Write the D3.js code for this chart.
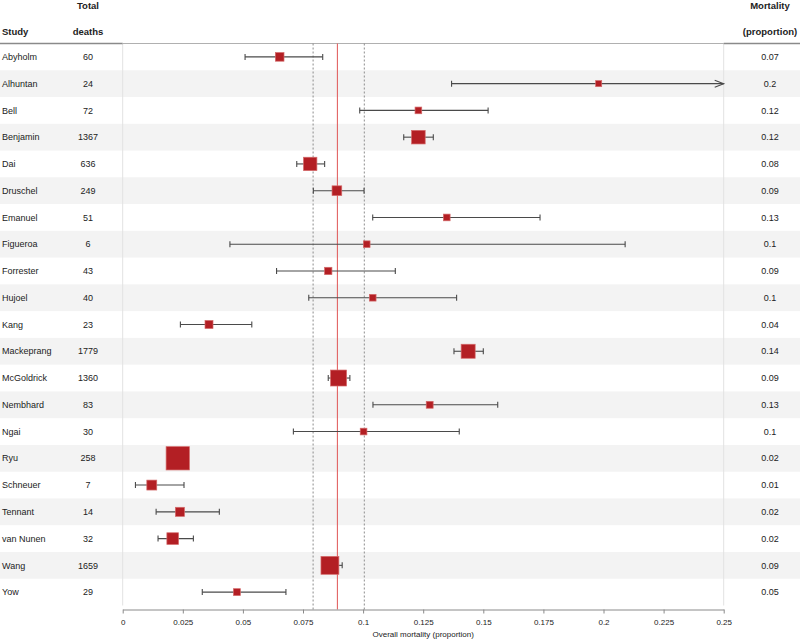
<!DOCTYPE html>
<html>
<head>
<meta charset="utf-8">
<script src="https://cdn.jsdelivr.net/npm/d3@7"></script>
<style>
  body { margin: 0; background: #fff; }
  svg { font-family: "Liberation Sans", Arial, sans-serif; }
</style>
</head>
<body>
<div id="chart"></div>
<script>
// study data
var aStudies = ["Abyholm","Alhuntan","Bell","Benjamin","Dai","Druschel","Emanuel","Figueroa","Forrester","Hujoel",
	"Kang","Mackeprang","McGoldrick","Nembhard","Ngai","Ryu","Schneuer","Tennant","van Nunen","Wang","Yow"];
var aDeaths = [60,24,72,1367,636,249,51,6,43,40,23,1779,1360,83,30,258,7,14,32,1659,29];
var aEstimate = [0.0653,0.198,0.123,0.123,0.078,0.0891,0.1348,0.1015,0.0855,0.104,0.0359,0.1437,0.0898,0.1277,0.1002,0.0229,0.0121,0.0238,0.0208,0.0862,0.0475];
var aLower = [0.0509,0.1368,0.0986,0.1169,0.0724,0.0793,0.104,0.0446,0.064,0.0774,0.024,0.1378,0.0855,0.1041,0.071,0.0205,0.0053,0.0139,0.0147,0.0834,0.0331];
var aUpper = [0.0832,0.27,0.152,0.1292,0.084,0.1004,0.1736,0.209,0.1134,0.1389,0.0537,0.15,0.0945,0.156,0.14,0.025,0.0255,0.0402,0.0294,0.0913,0.0679];
var aWeight = [4.0,2.8,3.1,6.3,6.2,4.5,3.1,3.1,3.4,3.1,3.7,6.5,7.4,3.2,3.1,10.8,4.6,4.2,5.4,8.3,3.2];
var aMortality = ["0.07","0.2","0.12","0.12","0.08","0.09","0.13","0.1","0.09","0.1","0.04","0.14","0.09","0.13","0.1","0.02","0.01","0.02","0.02","0.09","0.05"];
var aTickValues = [0,0.025,0.05,0.075,0.1,0.125,0.15,0.175,0.2,0.225,0.25];
var aTickLabels = ["0","0.025","0.05","0.075","0.1","0.125","0.15","0.175","0.2","0.225","0.25"];
var fPooled = 0.0893;
var aPooledCI = [0.0792,0.1005];

var iWidth = 800;
var iHeight = 639;
var iTop = 43.5;
var iBottom = 605.5;
var iAxisY = 609.5;

var svg = d3.select("#chart").append("svg")
	.attr("width", iWidth)
	.attr("height", iHeight);

var xScale = d3.scaleLinear().domain([0, 0.25]).range([122.7, 723.7]);
var yScale = d3.scaleBand().domain(aStudies).range([iTop, iBottom]);
var sizeScale = d3.scaleLinear().domain([0, d3.max(aWeight)]).range([0, 23.3]);

var rows = aStudies.map(function(s, i) {
	return {name: s, deaths: aDeaths[i], est: aEstimate[i], lo: aLower[i], hi: aUpper[i], w: aWeight[i], mort: aMortality[i], i: i};
});

// zebra stripes
svg.selectAll(".stripe")
	.data(rows.filter(function(d) { return d.i % 2 == 1; }))
	.enter().append("rect")
		.attr("x", 0)
		.attr("y", function(d) { return yScale(d.name); })
		.attr("width", iWidth)
		.attr("height", yScale.bandwidth())
		.attr("fill", "#f3f3f3");

// plot frame sides
svg.selectAll(".side")
	.data([0, 0.25])
	.enter().append("line")
		.attr("x1", function(d) { return xScale(d); })
		.attr("x2", function(d) { return xScale(d); })
		.attr("y1", iTop)
		.attr("y2", iBottom)
		.attr("stroke", "#e2e2e2")
		.attr("stroke-width", 1);

// header
var header = svg.append("g").attr("font-weight", "bold").attr("font-size", "9.5px").attr("fill", "#222");
header.append("text").attr("x", 2).attr("y", 35).text("Study");
header.append("text").attr("x", 88).attr("y", 9).attr("text-anchor", "middle").text("Total");
header.append("text").attr("x", 88).attr("y", 35).attr("text-anchor", "middle").text("deaths");
header.append("text").attr("x", 770).attr("y", 9).attr("text-anchor", "middle").text("Mortality");
header.append("text").attr("x", 770).attr("y", 35).attr("text-anchor", "middle").text("(proportion)");

svg.append("line").attr("x1", 0).attr("x2", xScale(0)).attr("y1", iTop).attr("y2", iTop)
	.attr("stroke", "#8a8a8a").attr("stroke-width", 1.6);
svg.append("line").attr("x1", xScale(0)).attr("x2", xScale(0.25)).attr("y1", iTop).attr("y2", iTop)
	.attr("stroke", "#b0b0b0").attr("stroke-width", 1);
svg.append("line").attr("x1", xScale(0.25)).attr("x2", iWidth).attr("y1", iTop).attr("y2", iTop)
	.attr("stroke", "#8a8a8a").attr("stroke-width", 1.6);

// pooled estimate and its interval
svg.selectAll(".ciline")
	.data(aPooledCI)
	.enter().append("line")
		.attr("x1", function(d) { return xScale(d); })
		.attr("x2", function(d) { return xScale(d); })
		.attr("y1", iTop)
		.attr("y2", iAxisY)
		.attr("stroke", "#8c8c8c")
		.attr("stroke-width", 1)
		.attr("stroke-dasharray", "2,2");
svg.append("line")
	.attr("x1", xScale(fPooled)).attr("x2", xScale(fPooled))
	.attr("y1", iTop).attr("y2", iAxisY)
	.attr("stroke", "#e05555")
	.attr("stroke-width", 1);

// table text
var tableText = svg.append("g").attr("font-size", "9px").attr("fill", "#222");
tableText.selectAll(".study")
	.data(rows)
	.enter().append("text")
		.attr("x", 2)
		.attr("y", function(d) { return yScale(d.name) + yScale.bandwidth() / 2; })
		.attr("dy", "0.35em")
		.text(function(d) { return d.name; });
tableText.selectAll(".deaths")
	.data(rows)
	.enter().append("text")
		.attr("x", 88)
		.attr("text-anchor", "middle")
		.attr("y", function(d) { return yScale(d.name) + yScale.bandwidth() / 2; })
		.attr("dy", "0.35em")
		.text(function(d) { return d.deaths; });
tableText.selectAll(".mort")
	.data(rows)
	.enter().append("text")
		.attr("x", 770)
		.attr("text-anchor", "middle")
		.attr("y", function(d) { return yScale(d.name) + yScale.bandwidth() / 2; })
		.attr("dy", "0.35em")
		.text(function(d) { return d.mort; });

// error bars
var bars = svg.selectAll(".bar")
	.data(rows)
	.enter().append("g")
		.attr("transform", function(d) { return "translate(0," + (yScale(d.name) + yScale.bandwidth() / 2) + ")"; });

bars.append("line")
	.attr("x1", function(d) { return xScale(Math.max(d.lo, 0)); })
	.attr("x2", function(d) { return xScale(Math.min(d.hi, 0.25)); })
	.attr("stroke", "#4a4a4a")
	.attr("stroke-width", 1.1);

bars.append("line")
	.attr("x1", function(d) { return xScale(d.lo); })
	.attr("x2", function(d) { return xScale(d.lo); })
	.attr("y1", -3).attr("y2", 3)
	.attr("stroke", "#4a4a4a")
	.attr("stroke-width", 1.1);

bars.filter(function(d) { return d.hi <= 0.25; }).append("line")
	.attr("x1", function(d) { return xScale(d.hi); })
	.attr("x2", function(d) { return xScale(d.hi); })
	.attr("y1", -3).attr("y2", 3)
	.attr("stroke", "#4a4a4a")
	.attr("stroke-width", 1.1);

// clipped intervals get an arrow at the edge
bars.filter(function(d) { return d.hi > 0.25; }).append("path")
	.attr("d", function(d) { var x = xScale(0.25); return "M" + (x - 9) + ",-3.5L" + x + ",0L" + (x - 9) + ",3.5"; })
	.attr("fill", "none")
	.attr("stroke", "#4a4a4a")
	.attr("stroke-width", 1.1);

bars.append("rect")
	.attr("x", function(d) { return xScale(d.est) - sizeScale(d.w) / 2; })
	.attr("y", function(d) { return -sizeScale(d.w) / 2; })
	.attr("width", function(d) { return sizeScale(d.w); })
	.attr("height", function(d) { return sizeScale(d.w); })
	.attr("fill", "#b31f24")
	.attr("stroke", "#d46a6a")
	.attr("stroke-width", 0.7);

// x axis
var xAxis = d3.axisBottom(xScale)
	.tickValues(aTickValues)
	.tickFormat(function(d, i) { return aTickLabels[i]; })
	.tickSize(4)
	.tickSizeOuter(0);

var gAxis = svg.append("g")
	.attr("transform", "translate(0," + iAxisY + ")")
	.call(xAxis);
gAxis.select(".domain").attr("stroke", "#8a8a8a");
gAxis.selectAll(".tick line").attr("stroke", "#8a8a8a");
gAxis.selectAll(".tick text")
	.attr("font-family", "Liberation Sans, Arial, sans-serif")
	.attr("font-size", "8px")
	.attr("fill", "#222")
	.attr("y", 8)
	.attr("dy", "0.9em");

svg.append("text")
	.attr("x", (xScale(0) + xScale(0.25)) / 2)
	.attr("y", 637)
	.attr("text-anchor", "middle")
	.attr("font-size", "8px")
	.attr("fill", "#222")
	.text("Overall mortality (proportion)");
</script>
</body>
</html>
